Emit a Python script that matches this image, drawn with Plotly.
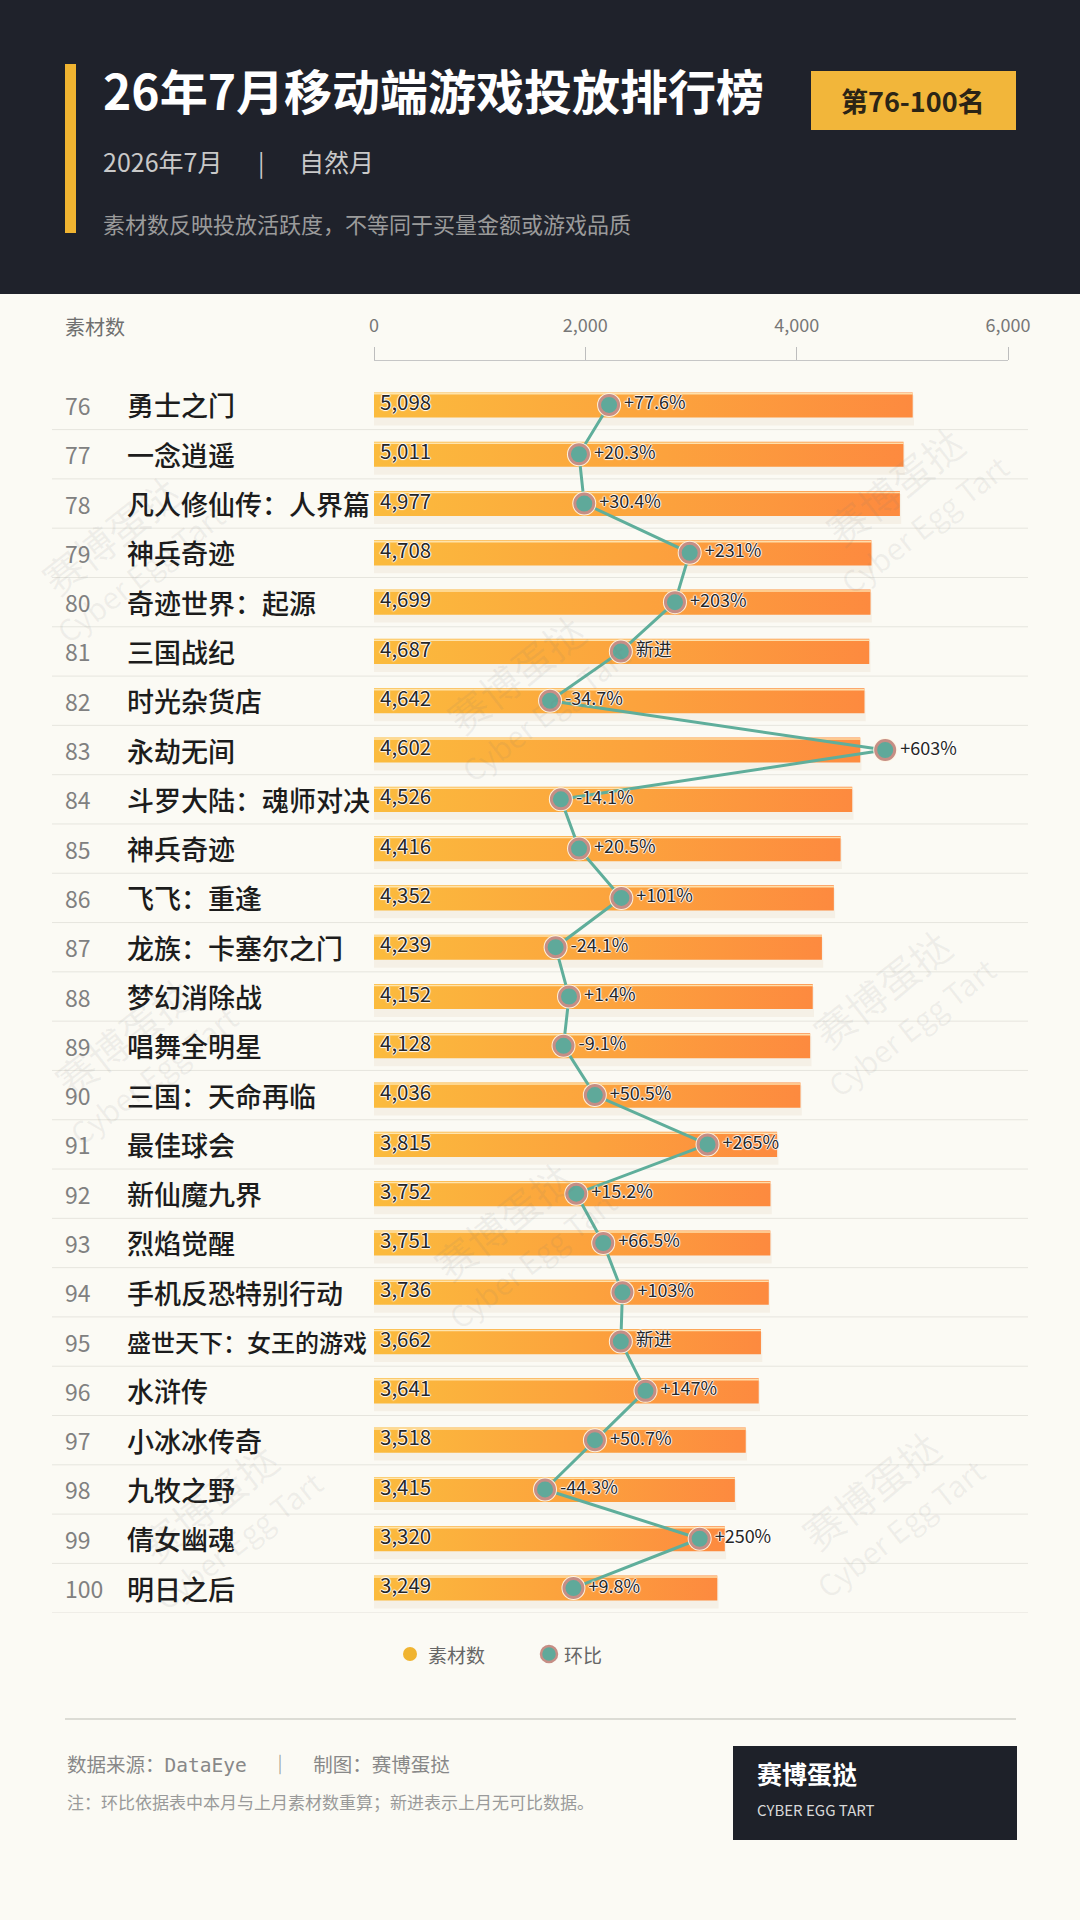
import plotly.graph_objects as go

# ---------------- data ----------------
ranks = list(range(76, 101))
games = ["勇士之门", "一念逍遥", "凡人修仙传：人界篇", "神兵奇迹", "奇迹世界：起源", "三国战纪",
         "时光杂货店", "永劫无间", "斗罗大陆：魂师对决", "神兵奇迹", "飞飞：重逢", "龙族：卡塞尔之门",
         "梦幻消除战", "唱舞全明星", "三国：天命再临", "最佳球会", "新仙魔九界", "烈焰觉醒",
         "手机反恐特别行动", "盛世天下：女王的游戏", "水浒传", "小冰冰传奇", "九牧之野", "倩女幽魂", "明日之后"]
materials = [5098, 5011, 4977, 4708, 4699, 4687, 4642, 4602, 4526, 4416, 4352, 4239,
             4152, 4128, 4036, 3815, 3752, 3751, 3736, 3662, 3641, 3518, 3415, 3320, 3249]
mom_pct = [77.6, 20.3, 30.4, 231, 203, None, -34.7, 603, -14.1, 20.5, 101, -24.1,
           1.4, -9.1, 50.5, 265, 15.2, 66.5, 103, None, 147, 50.7, -44.3, 250, 9.8]
NEW_LABEL = "新进"
NEW_POS = 100  # position used for entries without comparable data
x_ticks = [0, 2000, 4000, 6000]

W, H = 1080, 1920
def px(x): return x / W
def py(y): return 1 - y / H

FONT = "Noto Sans CJK SC, Noto Sans, sans-serif"
MONO = "DejaVu Sans Mono, Noto Sans CJK SC, monospace"
BG = "#fbfaf4"
DARK = "#1f222b"
YEL = "#f2b63a"

X_RANGE = [0, 6000]
X_PX_PER_UNIT = (1008 - 374) / (X_RANGE[1] - X_RANGE[0])
X2_RANGE = [-369.7, 836.7]
X2_PX_PER_UNIT = (1008 - 374) / (X2_RANGE[1] - X2_RANGE[0])

n = len(games)
idx = list(range(n))

def fmt_pct(v):
    if v is None:
        return NEW_LABEL
    return f"{v:+.0f}%" if abs(v) >= 100 else f"{v:+.1f}%"

pct_x = [NEW_POS if v is None else v for v in mom_pct]
pct_text = [fmt_pct(v) for v in mom_pct]
HALO = "1px 0px 1px #fff, -1px 0px 1px #fff, 0px 1px 1px #fff, 0px -1px 1px #fff"

fig = go.Figure()

hb = 0.255  # half bar thickness in row units

# bar shadow
sx, sy = [], []
for i, v in zip(idx, materials):
    sx += [-8, v + 12, v + 12, -8, -8, None]
    sy += [i - hb + 0.06, i - hb + 0.06, i + hb + 0.16, i + hb + 0.16, i - hb + 0.06, None]
fig.add_trace(go.Scatter(x=sx, y=sy, fill="toself", mode="lines", line=dict(width=0),
                         fillcolor="rgba(170,120,60,0.07)", hoverinfo="skip", showlegend=False))

# bars with gradient
for i, v in zip(idx, materials):
    fig.add_trace(go.Scatter(
        x=[0, v, v, 0, 0], y=[i - hb, i - hb, i + hb, i + hb, i - hb],
        fill="toself", mode="lines", line=dict(width=0),
        fillgradient=dict(type="horizontal", colorscale=[[0, "#fbbb3d"], [0.55, "#fca23d"], [1, "#fd8a3f"]]),
        hovertemplate=f"{games[i]}<br>素材数 {v:,}<extra></extra>", showlegend=False))

# top highlight
hx, hy = [], []
for i, v in zip(idx, materials):
    hx += [0, v, None]
    hy += [i - hb + 0.03, i - hb + 0.03, None]
fig.add_trace(go.Scatter(x=hx, y=hy, mode="lines", line=dict(width=1.5, color="rgba(255,236,190,0.85)"),
                         hoverinfo="skip", showlegend=False))

# value labels
val_pad = 6 / X_PX_PER_UNIT
fig.add_trace(go.Scatter(
    x=[val_pad] * n, y=idx, mode="text", text=[f"{v:,}" for v in materials],
    textposition="middle right",
    textfont=dict(family=FONT, size=20.5, color="#262626", shadow=HALO),
    hoverinfo="skip", showlegend=False))

# month-on-month line (secondary x axis)
fig.add_trace(go.Scatter(
    x=pct_x, y=idx, xaxis="x2", yaxis="y", mode="lines",
    line=dict(color="#5fae9b", width=3), hoverinfo="skip", showlegend=False))
fig.add_trace(go.Scatter(
    x=pct_x, y=idx, xaxis="x2", yaxis="y", mode="markers",
    marker=dict(size=24, color="rgba(255,246,228,0.95)", line=dict(width=0)),
    hoverinfo="skip", showlegend=False))
fig.add_trace(go.Scatter(
    x=pct_x, y=idx, xaxis="x2", yaxis="y", mode="markers",
    marker=dict(size=19, color="#5fa99a", line=dict(width=3, color="#c68e85")),
    customdata=list(zip(games, pct_text)), hovertemplate="%{customdata[0]}<br>环比 %{customdata[1]}<extra></extra>",
    showlegend=False))
label_gap = 15 / X2_PX_PER_UNIT
fig.add_trace(go.Scatter(
    x=[v + label_gap for v in pct_x], y=idx, xaxis="x2", yaxis="y", mode="text",
    text=pct_text, textposition="middle right",
    textfont=dict(family=FONT, size=18, color="#262626", shadow=HALO),
    hoverinfo="skip", showlegend=False))

shapes = []
annotations = []

# header background
shapes.append(dict(type="rect", xref="paper", yref="paper", x0=0, x1=1, y0=py(294), y1=1,
                   fillcolor=DARK, line=dict(width=0), layer="below"))
shapes.append(dict(type="rect", xref="paper", yref="paper", x0=px(65), x1=px(76), y0=py(233), y1=py(64),
                   fillcolor="#f0b431", line=dict(width=0)))
shapes.append(dict(type="rect", xref="paper", yref="paper", x0=px(811), x1=px(1016), y0=py(130), y1=py(71),
                   fillcolor=YEL, line=dict(width=0)))

annotations += [
    dict(x=px(101), y=py(89), text="26年7月移动端游戏投放排行榜", font=dict(family=FONT, size=48, color="#ffffff", weight="bold")),
    dict(x=px(101), y=py(161), text="2026年7月", font=dict(family=FONT, size=25, color="#c9c9c9")),
    dict(x=px(256), y=py(161), text="|", font=dict(family=FONT, size=24, color="#c9c9c9")),
    dict(x=px(297), y=py(161), text="自然月", font=dict(family=FONT, size=25, color="#c9c9c9")),
    dict(x=px(101), y=py(223), text="素材数反映投放活跃度，不等同于买量金额或游戏品质", font=dict(family=FONT, size=22, color="#9b9b9b")),
    dict(x=px(913), y=py(100), xanchor="center", text="第76-100名", font=dict(family=FONT, size=27, color="#2b2416", weight="bold")),
    dict(x=px(63), y=py(326), text="素材数", font=dict(family=FONT, size=20, color="#6f6f6f")),
]

# row separators
for i in idx:
    shapes.append(dict(type="line", xref="paper", yref="y", x0=px(52), x1=px(1028), y0=i + 0.5, y1=i + 0.5,
                       line=dict(color="#e6e5de", width=1), layer="below"))

# rank numbers and names
for i in idx:
    annotations.append(dict(x=px(63), y=i, yref="y", text=str(ranks[i]),
                            font=dict(family=FONT, size=23, color="#808080")))
    fs = 27 if len(games[i]) <= 9 else 24
    annotations.append(dict(x=px(125), y=i, yref="y", text=games[i],
                            font=dict(family=FONT, size=fs, color="#1c1c1c", weight=500)))

# watermarks
for (wx, wy) in [(122, 551), (906, 502), (527, 690), (135, 1053), (894, 1004), (514, 1237), (220, 1518), (882, 1506)]:
    annotations.append(dict(x=px(wx), y=py(wy), xanchor="center", yanchor="middle", textangle=-38,
                            text="<span style='font-size:40px'>赛博蛋挞</span><br><span style='font-size:30px'>Cyber Egg Tart</span>",
                            font=dict(family=FONT, size=34, color="rgba(120,120,120,0.09)")))

# legend
shapes.append(dict(type="circle", xref="paper", yref="paper", x0=px(403), x1=px(417), y0=py(1661), y1=py(1647),
                   fillcolor="#f0b431", line=dict(width=0)))
shapes.append(dict(type="circle", xref="paper", yref="paper", x0=px(541), x1=px(557), y0=py(1662), y1=py(1646),
                   fillcolor="#5fa99a", line=dict(width=2.5, color="#c68e85")))
annotations += [
    dict(x=px(426), y=py(1654), text="素材数", font=dict(family=FONT, size=19, color="#666666")),
    dict(x=px(562), y=py(1654), text="环比", font=dict(family=FONT, size=19, color="#666666")),
]

# footer
shapes.append(dict(type="line", xref="paper", yref="paper", x0=px(65), x1=px(1016), y0=py(1719), y1=py(1719),
                   line=dict(color="#dcdcd5", width=2)))
shapes.append(dict(type="rect", xref="paper", yref="paper", x0=px(733), x1=px(1017), y0=py(1840), y1=py(1746),
                   fillcolor="#1e2129", line=dict(width=0)))
annotations += [
    dict(x=px(65), y=py(1765), text="数据来源：DataEye  ｜  制图：赛博蛋挞", font=dict(family=MONO, size=19.5, color="#888888")),
    dict(x=px(65), y=py(1801), text="注：环比依据表中本月与上月素材数重算；新进表示上月无可比数据。", font=dict(family=FONT, size=17, color="#9a9a9a")),
    dict(x=px(755), y=py(1773), text="赛博蛋挞", font=dict(family=FONT, size=25, color="#ffffff", weight="bold")),
    dict(x=px(755), y=py(1809), text="CYBER EGG TART", font=dict(family=FONT, size=15, color="#d8d8d8")),
]

for a in annotations:
    a.setdefault("xref", "paper")
    a.setdefault("yref", "paper")
    a.setdefault("xanchor", "left")
    a.setdefault("yanchor", "middle")
    a["showarrow"] = False

fig.update_layout(
    width=W, height=H, autosize=False,
    margin=dict(l=0, r=0, t=0, b=0, pad=0, autoexpand=False),
    paper_bgcolor=BG, plot_bgcolor="rgba(0,0,0,0)",
    shapes=shapes, annotations=annotations,
    showlegend=False,
    xaxis=dict(domain=[px(374), px(1008)], range=X_RANGE, anchor="free", position=py(360), side="top",
               tickvals=x_ticks, tickformat=",", ticks="outside", ticklen=13, tickcolor="#bdbdbd",
               showline=True, linecolor="#c6c6c6", linewidth=1, showgrid=False, zeroline=False,
               tickfont=dict(family=FONT, size=18, color="#777777"), ticklabelstandoff=8, fixedrange=True),
    xaxis2=dict(overlaying="x", range=X2_RANGE, visible=False, anchor="y", fixedrange=True),
    yaxis=dict(domain=[py(1612.7), py(380.3)], range=[n - 0.5, -0.5], visible=False, fixedrange=True),
    hoverlabel=dict(font=dict(family=FONT)),
)

fig.write_html(
    "out.html",
    config={"displayModeBar": False},
    post_script=("document.documentElement.style.margin='0';document.documentElement.style.overflow='hidden';"
                 "document.body.style.margin='0';document.body.style.padding='0';"
                 "document.body.style.overflow='hidden';document.body.style.background='#fbfaf4';"),
)
